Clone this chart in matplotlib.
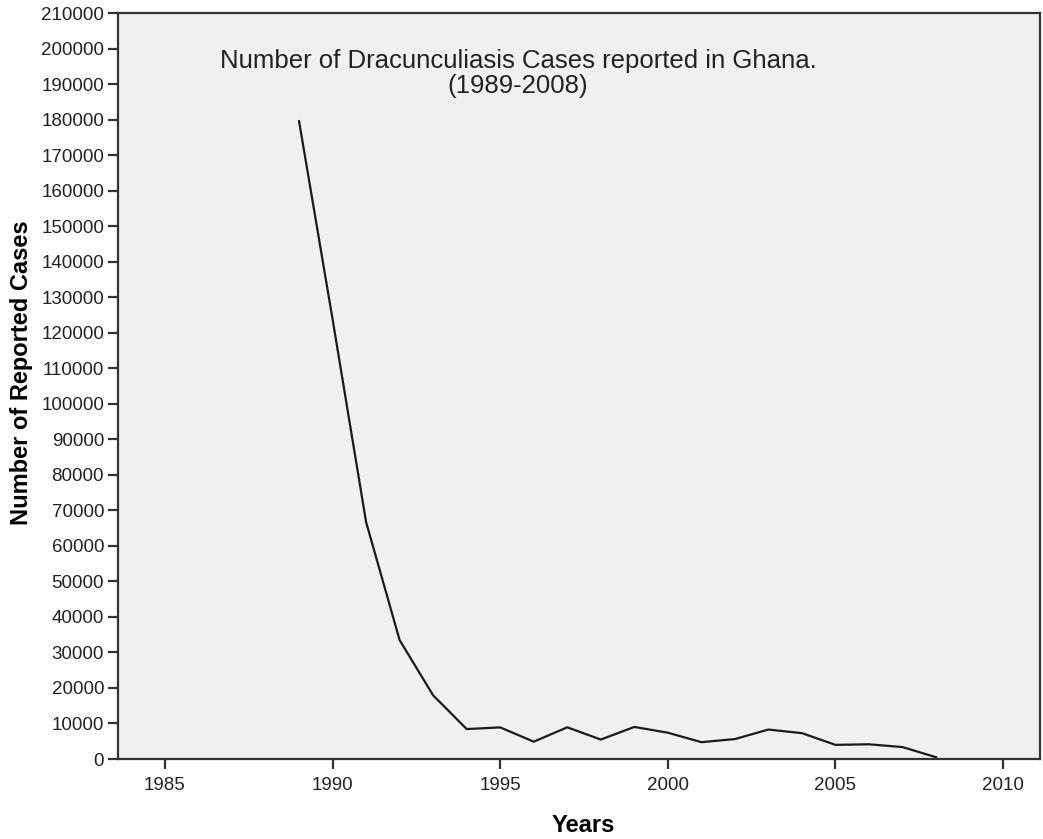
import matplotlib as mpl
import matplotlib.pyplot as plt

years = [1989, 1990, 1991, 1992, 1993, 1994, 1995, 1996, 1997, 1998,
         1999, 2000, 2001, 2002, 2003, 2004, 2005, 2006, 2007, 2008]
cases = [179556, 123793, 66697, 33464, 17918, 8432, 8894, 4877, 8921, 5473,
         9027, 7402, 4739, 5611, 8290, 7275, 3981, 4136, 3358, 501]

x_ticks = [1985, 1990, 1995, 2000, 2005, 2010]
y_ticks = list(range(0, 210001, 10000))

dpi = 100
fig = plt.figure(dpi = dpi, figsize = (1043 / dpi, 839 / dpi))
mpl.rcParams.update({'font.family': 'Liberation Sans', 'font.size': 13})

ax = fig.add_axes([118 / 1043, 1 - 759 / 839, (1040 - 118) / 1043, (759 - 13) / 839])
ax.set_facecolor('#f0f0f0')

ax.plot(years, cases, color = '#1a1a1a', linewidth = 1.6)

ax.set_xlim(1983.6, 2011.1)
ax.set_ylim(0, 210000)
ax.set_xticks(x_ticks)
ax.set_yticks(y_ticks)
ax.tick_params(direction = 'out', length = 7, width = 1.6, color = '#333333',
               labelsize = 13.5, labelcolor = '#222222', pad = 3)
ax.tick_params(axis = 'x', pad = 6)

for s in ax.spines.values():
    s.set_linewidth(1.6)
    s.set_color('#333333')

ax.text(0.434, 0.952, 'Number of Dracunculiasis Cases reported in Ghana.\n(1989-2008)',
        transform = ax.transAxes, ha = 'center', va = 'top', fontsize = 18.5,
        color = '#222222', linespacing = 1.05)

# axis labels placed in figure pixels
fig.text(583 / 1043, 1 - 825 / 839, 'Years', ha = 'center', va = 'center',
         fontsize = 17, fontweight = 'bold')
fig.text(22 / 1043, 1 - 373 / 839, 'Number of Reported Cases', ha = 'center', va = 'center',
         rotation = 90, fontsize = 17, fontweight = 'bold')

fig.savefig('out.png')
